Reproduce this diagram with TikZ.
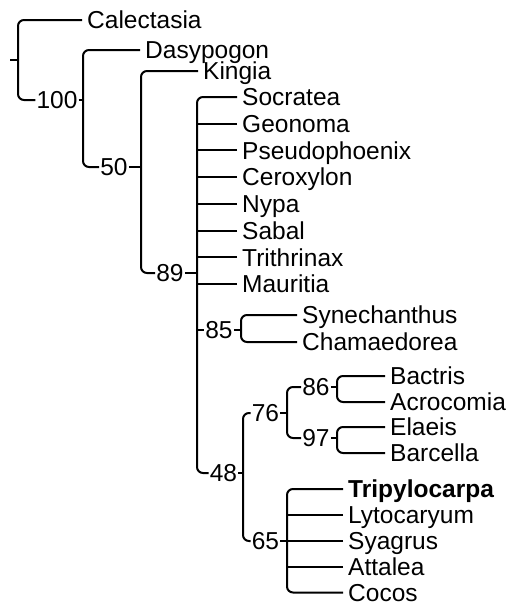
\documentclass[tikz,border=0pt]{standalone}
\usepackage{fontspec}
\setmainfont{Liberation Sans}
\usetikzlibrary{positioning}
\tikzset{
  leaf/.style ={anchor=west,inner xsep=5pt,inner ysep=1pt,text height=17.6pt,text depth=0pt,
                font=\fontsize{24.5}{27}\selectfont},
  bs/.style   ={inner xsep=1pt,inner ysep=1pt,text height=17.6pt,text depth=0pt,
                font=\fontsize{24.5}{27}\selectfont},
  br/.style   ={draw=black,line width=2pt,rounded corners=6pt},
  tk/.style   ={draw=black,line width=2pt},
}
\begin{document}
\begin{tikzpicture}[x=1pt,y=-1pt]
  \useasboundingbox (0,0) rectangle (507,603);

  % outgroups
  \coordinate (r0) at (10,60);
  \coordinate (v0) at (18,60);
  \node[leaf] (calectasia) at (82,20) {Calectasia};
  \node[bs] (n100) at (57,100) {100};
  \coordinate (v100) at (83,100);
  \node[leaf] (dasypogon) at (140,50) {Dasypogon};
  \node[bs] (n50) at (114,167) {50};
  \coordinate (v50) at (141,167);
  \node[leaf] (kingia) at (198,71) {Kingia};
  \node[bs] (n89) at (170,273) {89};
  \coordinate (v89) at (197,273);
  \draw[tk] (r0) -- (v0);
  \draw[br] (calectasia.west) -| (v0) |- (n100.west);
  \draw[tk] (n100.east) -- (v100);
  \draw[br] (dasypogon.west) -| (v100) |- (n50.west);
  \draw[tk] (n50.east) -- (v50);
  \draw[br] (kingia.west) -| (v50) |- (n89.west);
  \draw[tk] (n89.east) -- (v89);

  % palm polytomy
  \node[leaf] (socratea) at (237,97) {Socratea};
  \node[leaf,below=26.7pt of socratea.west,anchor=west] (geonoma) {Geonoma};
  \node[leaf,below=26.7pt of geonoma.west,anchor=west] (pseudo) {Pseudophoenix};
  \node[leaf,below=26.7pt of pseudo.west,anchor=west] (ceroxylon) {Ceroxylon};
  \node[leaf,below=26.7pt of ceroxylon.west,anchor=west] (nypa) {Nypa};
  \node[leaf,below=26.7pt of nypa.west,anchor=west] (sabal) {Sabal};
  \node[leaf,below=26.7pt of sabal.west,anchor=west] (trithrinax) {Trithrinax};
  \node[leaf,below=26.7pt of trithrinax.west,anchor=west] (mauritia) {Mauritia};
  \node[bs] (n85) at (219,330) {85};
  \node[bs] (n48) at (223.5,473) {48};
  \draw[br] (socratea.west) -| (v89) |- (n48.west);
  \draw[tk] (geonoma.west) -- (geonoma.west -| v89);
  \draw[tk] (pseudo.west) -- (pseudo.west -| v89);
  \draw[tk] (ceroxylon.west) -- (ceroxylon.west -| v89);
  \draw[tk] (nypa.west) -- (nypa.west -| v89);
  \draw[tk] (sabal.west) -- (sabal.west -| v89);
  \draw[tk] (trithrinax.west) -- (trithrinax.west -| v89);
  \draw[tk] (mauritia.west) -- (mauritia.west -| v89);
  \draw[tk] (n85.west -| v89) -- (n85.west);

  % 85 clade
  \coordinate (v85) at (241,330);
  \node[leaf] (synech) at (297,315) {Synechanthus};
  \node[leaf,below=27pt of synech.west,anchor=west] (chamae) {Chamaedorea};
  \draw[tk] (n85.east) -- (v85);
  \draw[br] (synech.west) -| (v85) |- (chamae.west);

  % 48 clade
  \coordinate (v48) at (243,473);
  \node[bs] (n76) at (265.5,413) {76};
  \node[bs] (n65) at (265.5,541) {65};
  \draw[tk] (n48.east) -- (v48);
  \draw[br] (n76.west) -| (v48) |- (n65.west);
  \coordinate (v76) at (287,413);
  \node[bs] (n86) at (316,387) {86};
  \node[bs] (n97) at (316,438) {97};
  \draw[tk] (n76.east) -- (v76);
  \draw[br] (n86.west) -| (v76) |- (n97.west);
  \coordinate (v86) at (337,387);
  \node[leaf] (bactris) at (385,376) {Bactris};
  \node[leaf,below=26pt of bactris.west,anchor=west] (acrocomia) {Acrocomia};
  \draw[tk] (n86.east) -- (v86);
  \draw[br] (bactris.west) -| (v86) |- (acrocomia.west);
  \coordinate (v97) at (337,438);
  \node[leaf] (elaeis) at (385,427) {Elaeis};
  \node[leaf,below=26pt of elaeis.west,anchor=west] (barcella) {Barcella};
  \draw[tk] (n97.east) -- (v97);
  \draw[br] (elaeis.west) -| (v97) |- (barcella.west);

  % 65 clade
  \coordinate (v65) at (287,541);
  \node[leaf,font=\fontsize{24.5}{27}\selectfont\bfseries] (tripylo) at (343,489) {Tripylocarpa};
  \node[leaf,below=26pt of tripylo.west,anchor=west] (lytoc) {Lytocaryum};
  \node[leaf,below=26pt of lytoc.west,anchor=west] (syagrus) {Syagrus};
  \node[leaf,below=26pt of syagrus.west,anchor=west] (attalea) {Attalea};
  \node[leaf,below=25.5pt of attalea.west,anchor=west] (cocos) {Cocos};
  \draw[tk] (n65.east) -- (v65);
  \draw[br] (tripylo.west) -| (v65) |- (cocos.west);
  \draw[tk] (lytoc.west) -- (lytoc.west -| v65);
  \draw[tk] (syagrus.west) -- (syagrus.west -| v65);
  \draw[tk] (attalea.west) -- (attalea.west -| v65);
\end{tikzpicture}
\end{document}
